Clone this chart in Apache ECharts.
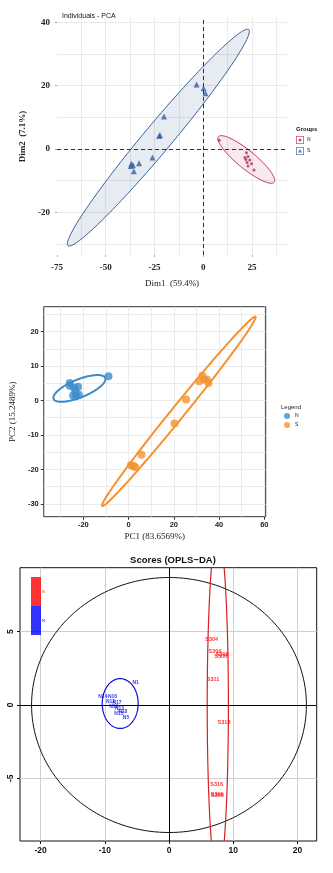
<!DOCTYPE html>
<html>
<head>
<meta charset="utf-8">
<script src="https://cdn.jsdelivr.net/npm/echarts@6/dist/echarts.min.js"></script>
<style>
  html, body { margin: 0; padding: 0; background: #fff; }
  #chart { width: 333px; height: 873px; }
</style>
</head>
<body>
<div id="chart"></div>
<script>
// ---- Individuals - PCA (Dim1 / Dim2) ----
const dimN = [[8.2, 2.8], [22.2, -1.2], [23.0, -2.4], [21.9, -3.3], [23.9, -3.5], [22.5, -4.3],
              [24.8, -4.7], [23.0, -5.4], [26.1, -6.6], [21.4, -2.7]];
const dimS = [[-3.4, 20.4], [0.2, 19.2], [1.2, 17.6], [-20.1, 10.3], [-22.6, 4.1], [-22.2, 4.4],
              [-26.0, -2.7], [-36.8, -4.7], [-36.0, -5.1], [-32.9, -4.5], [-35.6, -7.0], [-37.2, -5.4]];
// confidence ellipses: [cx, cy, ax, ay, bx, by]
const ellDimN = [22.1, -3.3, 14.3, -7.2, 2.9, 2.2];
const ellDimS = [-23, 3.6, 46.7, 33.6, 0, 6.8];
const dimXTicks = [-75, -50, -25, 0, 25];
const dimYTicks = [-20, 0, 20, 40];

// ---- PC1 / PC2 ----
const pcN = [[-8.9, 7.0], [-26.0, 5.1], [-22.3, 4.0], [-23.5, 2.7], [-23.2, 1.25], [-24.5, 1.45],
             [-22.0, 1.7], [-26.0, 4.3], [-24.1, 3.7]];
const pcS = [[32.6, 7.2], [31.3, 5.6], [34.6, 6.1], [35.3, 5.1], [33.4, 6.1], [25.4, 0.3],
             [20.3, -6.7], [5.7, -15.7], [2.2, -19.0], [1.0, -18.8], [2.9, -19.3]];
const ellPcN = [-21.75, 3.5, 11.4, 3.04, 1.47, -2.42];
const ellPcS = [22.2, -3.15, 33.9, 27.45, 2.2, -1.2];
const pcXTicks = [-20, 0, 20, 40, 60];
const pcYTicks = [-30, -20, -10, 0, 10, 20];

// ---- Scores (OPLS-DA) ----
const oplsN = [[-5.2, 1.53, 'N1'], [-10.3, 0.6, 'N14'], [-8.8, 0.6, 'N16'], [-9.1, 0.26, 'N12'],
               [-8.1, 0.17, 'N17'], [-8.6, -0.1, 'N10'], [-7.7, -0.24, 'N13'], [-7.2, -0.44, 'N18'],
               [-7.8, -0.58, 'N15'], [-6.7, -0.87, 'N5']];
const oplsS = [[6.65, 4.47, 'S304'], [7.17, 3.67, 'S309'], [8.05, 3.33, 'S306'], [8.3, 3.44, 'S308'],
               [6.85, 1.74, 'S311'], [8.57, -1.21, 'S313'], [7.43, -5.42, 'S316'], [7.5, -6.1, 'S300'],
               [7.55, -6.15, 'S305']];
const ellT2 = [0, 0, 21.4, 0, 0, 8.7];
const ellOplsN = [-7.6, 0.1, 2.8, 0, 0, 1.7];
const ellOplsS = [7.6, 0, 1.65, 0, 0, 11.7];
const oplsXTicks = [-20, -10, 0, 10, 20];
const oplsYTicks = [-5, 0, 5];

// outline of an ellipse given centre and two conjugate semi-axis vectors
function outline(e, n) {
  const pts = [];
  for (let i = 0; i <= n; i++) {
    const t = 2 * Math.PI * i / n;
    pts.push([e[0] + e[2] * Math.cos(t) + e[4] * Math.sin(t),
              e[1] + e[3] * Math.cos(t) + e[5] * Math.sin(t)]);
  }
  return pts;
}

function ellipseSeries(e, xi, yi, stroke, fill, width, z) {
  const pts = outline(e, 180);
  return {
    type: 'custom', xAxisIndex: xi, yAxisIndex: yi, clip: true, silent: true, z: z || 1,
    data: pts,
    renderItem: function (params, api) {
      if (params.dataIndex !== 0) return null;
      return {
        type: 'polygon',
        shape: { points: pts.map(p => api.coord(p)) },
        style: { fill: fill, stroke: stroke, lineWidth: width }
      };
    }
  };
}

const serifBold = { fontFamily: 'Liberation Serif', fontWeight: 'bold', fontSize: 9, color: '#222' };
const sansBold = { fontFamily: 'Liberation Sans', fontWeight: 'bold' };
const noLine = { show: false, onZero: false };

// an axis that only paints the background grid lines
function gridLineAxis(gi, pos, min, max, step, color, width) {
  return { gridIndex: gi, type: 'value', position: pos, min: min, max: max,
           minInterval: step, maxInterval: step,
           axisLine: noLine, axisTick: { show: false }, axisLabel: { show: false },
           splitLine: { lineStyle: { color: color, width: width || 0.8 }, showMinLine: false, showMaxLine: false } };
}

const red1 = '#B8285F', blue1 = '#36609F';
const blue2 = '#3A8DCA', orange2 = '#F5922F';

const boxN = 'path://M0,0H20V20H0Z M2,2V18H18V2Z M10,6A4,4 0 1,1 9.99,6Z';
const boxS = 'path://M0,0H20V20H0Z M2,2V18H18V2Z M10,5L15,14H5Z';

const option = {
  animation: false,
  backgroundColor: '#fff',
  title: [
    { text: 'Individuals - PCA', left: 57, top: 8,
      textStyle: { fontFamily: 'Liberation Sans', fontSize: 7, fontWeight: 'normal', color: '#111' } },
    { text: 'Groups', left: 291, top: 121,
      textStyle: { fontFamily: 'Liberation Sans', fontSize: 6, fontWeight: 'bold', color: '#111' } },
    { text: 'Legend', left: 276, top: 399,
      textStyle: { fontFamily: 'Liberation Sans', fontSize: 6, fontWeight: 'normal', color: '#222' } },
    { text: 'Scores (OPLS\u2212DA)', left: 168, top: 550, textAlign: 'center',
      textStyle: { fontFamily: 'Liberation Sans', fontSize: 9.5, fontWeight: 'bold', color: '#111' } }
  ],
  legend: [
    { orient: 'vertical', left: 291, top: 131, itemWidth: 8, itemHeight: 8, itemGap: 3,
      data: [{ name: 'dim N', icon: boxN }, { name: 'dim S', icon: boxS }],
      formatter: n => n.slice(-1),
      textStyle: { fontFamily: 'Liberation Sans', fontSize: 5, color: '#222', padding: [0, 0, 0, -2] } },
    { orient: 'vertical', left: 279, top: 408, itemWidth: 6, itemHeight: 6, itemGap: 3,
      data: [{ name: 'pc N', icon: 'circle' }, { name: 'pc S', icon: 'circle' }],
      formatter: n => n.slice(-1),
      textStyle: { fontFamily: 'Liberation Sans', fontSize: 5, color: '#222' } },
    { orient: 'vertical', left: 26, top: 572, itemWidth: 10, itemHeight: 29, itemGap: 0,
      data: [{ name: 'opls S', icon: 'rect', textStyle: { color: '#ff0000' } },
             { name: 'opls N', icon: 'rect', textStyle: { color: '#0000ff' } }],
      formatter: n => n.slice(-1),
      textStyle: { fontFamily: 'Liberation Sans', fontSize: 4, padding: [0, 0, 0, -4] } }
  ],
  grid: [
    { left: 57, top: 18, width: 230, height: 237 },
    { left: 41.7, top: 306.7, width: 224, height: 210, show: true, borderColor: '#333', borderWidth: 1 },
    { left: 20, top: 567.7, width: 296.7, height: 273.3, show: true, borderColor: '#111', borderWidth: 1 }
  ],
  xAxis: [
    gridLineAxis(0, 'bottom', -75, 43, 12.5, '#e4e4e4'),
    { gridIndex: 0, type: 'value', position: 'bottom', min: -75, max: 43,
      axisLine: noLine,
      axisTick: { show: true, length: 2, customValues: dimXTicks, lineStyle: { color: '#aaa' } },
      axisLabel: { ...serifBold, margin: 8, customValues: dimXTicks },
      splitLine: { show: false },
      name: 'Dim1  (59.4%)', nameLocation: 'middle', nameGap: 24,
      nameTextStyle: { fontFamily: 'Liberation Serif', fontSize: 9, color: '#222' } },
    gridLineAxis(1, 'bottom', -37.5, 60.6, 10, '#e6e6e6'),
    { gridIndex: 1, type: 'value', position: 'bottom', min: -37.5, max: 60.6,
      axisLine: noLine,
      axisTick: { show: true, length: 3, customValues: pcXTicks, lineStyle: { color: '#333' } },
      axisLabel: { ...sansBold, fontSize: 7.5, color: '#222', margin: 4, customValues: pcXTicks },
      splitLine: { show: false },
      name: 'PC1 (83.6569%)', nameLocation: 'middle', nameGap: 15,
      nameTextStyle: { fontFamily: 'Liberation Serif', fontSize: 9, color: '#222' } },
    gridLineAxis(2, 'bottom', -23.2, 23.0, 10, '#cfcfcf', 1),
    { gridIndex: 2, type: 'value', position: 'bottom', min: -23.2, max: 23.0,
      axisLine: noLine,
      axisTick: { show: true, length: 3, customValues: oplsXTicks, lineStyle: { color: '#111' } },
      axisLabel: { ...sansBold, fontSize: 8.5, color: '#111', margin: 5, customValues: oplsXTicks },
      splitLine: { show: false } }
  ],
  yAxis: [
    gridLineAxis(0, 'left', -33.5, 41.4, 10, '#e4e4e4'),
    { gridIndex: 0, type: 'value', position: 'left', min: -33.5, max: 41.4,
      axisLine: noLine,
      axisTick: { show: true, length: 2, customValues: dimYTicks, lineStyle: { color: '#aaa' } },
      axisLabel: { ...serifBold, margin: 7, customValues: dimYTicks },
      splitLine: { show: false },
      name: 'Dim2  (7.1%)', nameLocation: 'middle', nameGap: 24,
      nameTextStyle: { fontFamily: 'Liberation Serif', fontSize: 9, fontWeight: 'bold', color: '#222' } },
    gridLineAxis(1, 'left', -33.7, 27.2, 5, '#e6e6e6'),
    { gridIndex: 1, type: 'value', position: 'left', min: -33.7, max: 27.2,
      axisLine: noLine,
      axisTick: { show: true, length: 3, customValues: pcYTicks, lineStyle: { color: '#333' } },
      axisLabel: { ...sansBold, fontSize: 7.5, color: '#222', margin: 5, customValues: pcYTicks },
      splitLine: { show: false },
      name: 'PC2 (15.2489%)', nameLocation: 'middle', nameGap: 24,
      nameTextStyle: { fontFamily: 'Liberation Serif', fontSize: 9, color: '#222' } },
    gridLineAxis(2, 'left', -9.28, 9.37, 5, '#cfcfcf', 1),
    { gridIndex: 2, type: 'value', position: 'left', min: -9.28, max: 9.37,
      axisLine: noLine,
      axisTick: { show: true, length: 3, customValues: oplsYTicks, lineStyle: { color: '#111' } },
      axisLabel: { ...sansBold, fontSize: 8.5, color: '#111', margin: 5, rotate: 90, customValues: oplsYTicks },
      splitLine: { show: false } }
  ],
  series: [
    // panel 1
    ellipseSeries(ellDimS, 0, 0, blue1, 'rgba(54,96,159,0.12)', 1, 1),
    ellipseSeries(ellDimN, 0, 0, red1, 'rgba(184,40,95,0.10)', 1, 1),
    { name: 'dim N', type: 'scatter', xAxisIndex: 0, yAxisIndex: 0, data: dimN,
      symbol: 'circle', symbolSize: 3, itemStyle: { color: red1 }, z: 3,
      markLine: { silent: true, symbol: 'none', label: { show: false },
                  lineStyle: { color: '#333', type: [4, 3], width: 1 },
                  data: [{ xAxis: 0 }, { yAxis: 0 }] } },
    { name: 'dim S', type: 'scatter', xAxisIndex: 0, yAxisIndex: 0, data: dimS,
      symbol: 'triangle', symbolSize: 6, itemStyle: { color: blue1 }, z: 3 },
    // panel 2
    ellipseSeries(ellPcN, 2, 2, blue2, 'none', 2, 2),
    ellipseSeries(ellPcS, 2, 2, orange2, 'none', 2, 2),
    { name: 'pc N', type: 'scatter', xAxisIndex: 2, yAxisIndex: 2, data: pcN,
      symbolSize: 8, itemStyle: { color: blue2 }, z: 3 },
    { name: 'pc S', type: 'scatter', xAxisIndex: 2, yAxisIndex: 2, data: pcS,
      symbolSize: 8, itemStyle: { color: orange2 }, z: 3 },
    // panel 3
    ellipseSeries(ellT2, 4, 4, '#111', 'none', 1, 2),
    ellipseSeries(ellOplsN, 4, 4, '#1010d0', 'none', 1.2, 2),
    ellipseSeries(ellOplsS, 4, 4, '#d42020', 'none', 1.2, 2),
    { name: 'opls S', type: 'scatter', xAxisIndex: 4, yAxisIndex: 4, data: oplsS,
      symbolSize: 0, itemStyle: { color: '#ff0000' }, z: 4,
      label: { show: true, position: 'inside', formatter: p => p.data[2],
               fontFamily: 'Liberation Sans', fontWeight: 'bold', fontSize: 5.5, color: '#ff0000' },
      markLine: { silent: true, symbol: 'none', label: { show: false },
                  lineStyle: { color: '#000', type: 'solid', width: 1 },
                  data: [{ xAxis: 0 }, { yAxis: 0 }] } },
    { name: 'opls N', type: 'scatter', xAxisIndex: 4, yAxisIndex: 4, data: oplsN,
      symbolSize: 0, itemStyle: { color: '#0000ff' }, z: 4,
      label: { show: true, position: 'inside', formatter: p => p.data[2],
               fontFamily: 'Liberation Sans', fontWeight: 'bold', fontSize: 5, color: '#0000ff' } }
  ]
};

const chart = echarts.init(document.getElementById('chart'), null, { renderer: 'canvas' });
chart.setOption(option);
</script>
</body>
</html>
